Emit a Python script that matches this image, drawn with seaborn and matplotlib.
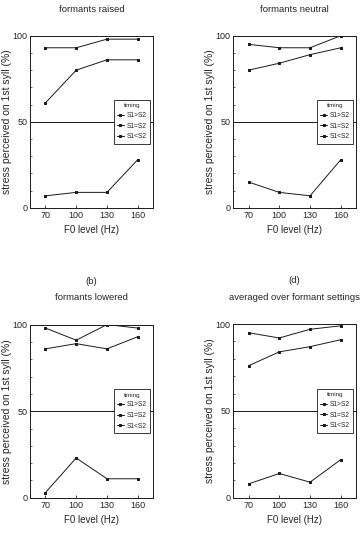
import pandas as pd
import matplotlib
matplotlib.use("Agg")
import matplotlib.pyplot as plt
import seaborn as sns

sns.set_theme(style="ticks")
plt.rcParams['font.family'] = ['Liberation Sans', 'DejaVu Sans']

# F0 levels (Hz) and timing conditions
f0 = [70, 100, 130, 160]
timing = ["S1>S2", "S1=S2", "S1<S2"]

# stress perceived on 1st syllable (%), one list per timing condition
raised_gt = [93, 93, 98, 98]
raised_eq = [61, 80, 86, 86]
raised_lt = [7, 9, 9, 28]

neutral_gt = [95, 93, 93, 100]
neutral_eq = [80, 84, 89, 93]
neutral_lt = [15, 9, 7, 28]

lowered_gt = [98, 91, 100, 98]
lowered_eq = [86, 89, 86, 93]
lowered_lt = [3, 23, 11, 11]

avg_gt = [95, 92, 97, 99]
avg_eq = [76, 84, 87, 91]
avg_lt = [8, 14, 9, 22]

panels = [
    ("formants raised", None, [raised_gt, raised_eq, raised_lt]),
    ("formants neutral", None, [neutral_gt, neutral_eq, neutral_lt]),
    ("formants lowered", "(b)", [lowered_gt, lowered_eq, lowered_lt]),
    ("averaged over formant settings", "(d)", [avg_gt, avg_eq, avg_lt]),
]

# axes rectangles in figure fractions (left, bottom, width, height)
rects = [
    [0.083, 0.610, 0.340, 0.323],
    [0.644, 0.610, 0.340, 0.323],
    [0.083, 0.066, 0.340, 0.325],
    [0.644, 0.066, 0.340, 0.326],
]

fig = plt.figure(figsize=(3.62, 5.33), dpi=100)

for (title, caption, series), rect in zip(panels, rects):
    ax = fig.add_axes(rect)
    df = pd.DataFrame({
        "F0": f0 * 3,
        "stress": series[0] + series[1] + series[2],
        "timing": [t for t in timing for _ in f0],
    })
    ax.axhline(50, color="k", lw=0.7, zorder=1)
    sns.lineplot(data=df, x="F0", y="stress", hue="timing",
                 palette=["k", "k", "k"], marker="s", markersize=2,
                 markeredgecolor="k", lw=0.7, ax=ax, zorder=3)
    ax.set_xlim(55, 175)
    ax.set_ylim(0, 100)
    ax.set_xticks(f0)
    ax.set_yticks([0, 50, 100])
    ax.set_yticks(range(0, 101, 10), minor=True)
    ax.tick_params(direction="in", length=2.5, width=0.6, labelsize=6.5, pad=2)
    ax.tick_params(axis="y", which="minor", direction="in", length=1.2, width=0.5)
    for s in ax.spines.values():
        s.set_linewidth(0.7)
        s.set_color("k")
    ax.set_xlabel("F0 level (Hz)", fontsize=7, labelpad=4)
    ax.set_ylabel("stress perceived on 1st syll (%)", fontsize=7.5)
    ax.yaxis.set_label_coords(-0.15, 0.5)
    ax.text(0.5, 1.155, title, transform=ax.transAxes, ha="center",
            va="center", fontsize=6.8)
    if caption:
        ax.text(0.5, 1.25, caption, transform=ax.transAxes, ha="center",
                va="center", fontsize=6.8)
    leg = ax.legend(title="timing", loc="center right",
                    bbox_to_anchor=(1.0, 0.5), fontsize=4.8, title_fontsize=4.5,
                    handlelength=1.0, handletextpad=0.4, borderpad=0.5,
                    labelspacing=0.55, fancybox=False, framealpha=1,
                    edgecolor="k")
    leg.get_frame().set_linewidth(0.6)
    leg.set_zorder(5)

fig.savefig("out.png", dpi=100)
